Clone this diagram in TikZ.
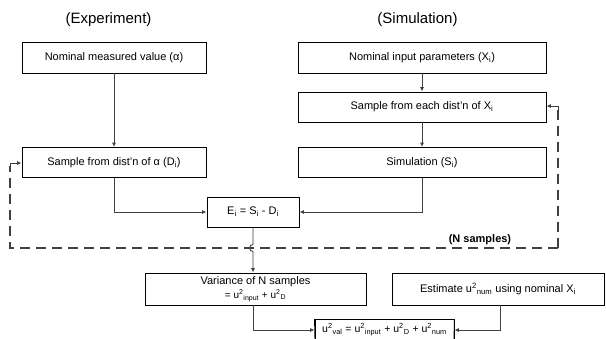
\documentclass[tikz,border=0pt]{standalone}
\usepackage{fontspec}
\setmainfont{Liberation Sans}
\usetikzlibrary{arrows.meta}
\begin{document}
\begin{tikzpicture}[x=1pt,y=-1pt,
  box/.style={draw=black, line width=0.9pt, fill=white, inner sep=0pt, font=\fontsize{11}{13}\selectfont, align=center},
  conn/.style={draw=black!75, line width=0.9pt, -{Latex[length=4.5pt,width=4pt]}},
  dashline/.style={draw=black!75, line width=1.8pt, dash pattern=on 10pt off 6pt},
  head/.style={font=\fontsize{15}{17}\selectfont, inner sep=0pt}]
\useasboundingbox (0,0) rectangle (606,338);
\clip (0,0) rectangle (606,338);
\fill[white] (0,0) rectangle (606,338);
\node[head] (hexp) at (108.5,20) {(Experiment)};
\node[head] (hsim) at (417.5,20) {(Simulation)};
\node[box, minimum width=184pt, minimum height=31pt] (n1) at (114,57.5) {Nominal measured value (α)};
\node[box, minimum width=184pt, minimum height=30pt] (n2) at (114,162.5) {Sample from dist’n of α (D\textsubscript{i})};
\node[box, minimum width=248pt, minimum height=31pt] (s1) at (422,57.5) {Nominal input parameters (X\textsubscript{i})};
\node[box, minimum width=248pt, minimum height=30pt] (s2) at (422,107) {Sample from each dist’n of X\textsubscript{i}};
\node[box, minimum width=248pt, minimum height=30pt] (s3) at (422,162.5) {Simulation (S\textsubscript{i})};
\node[box, minimum width=92pt, minimum height=30pt] (E) at (253,212) {E\textsubscript{i} = S\textsubscript{i} - D\textsubscript{i}};
\node[box, minimum width=221pt, minimum height=32pt, font=\fontsize{11}{15}\selectfont] (V) at (255.5,289) {Variance of N samples\\[-1pt]{\fontsize{10}{12}\selectfont = u\textsuperscript{2}\textsubscript{input} + u\textsuperscript{2}\textsubscript{D}}};
\node[box, minimum width=212pt, minimum height=32pt] (Est) at (498,289) {Estimate u\textsuperscript{2}\textsubscript{num} using nominal X\textsubscript{i}};
\node[box, minimum width=139pt, minimum height=21pt, font=\fontsize{10.5}{12}\selectfont] (F) at (384.5,330) {u\textsuperscript{2}\textsubscript{val} = u\textsuperscript{2}\textsubscript{input} + u\textsuperscript{2}\textsubscript{D} + u\textsuperscript{2}\textsubscript{num}};
\draw[black, line width=0.9pt] (F.north west) -- (315,340) (F.north east) -- (454,340);
% dashed loop
\coordinate (dl) at (10,248);
\coordinate (dr) at (558,248);
\draw[dashline] (dr) -- (dl) -- (10,166);
\draw[dashline] (dr) -- (558,110);
\draw[conn] (10,168) -- (10,163) -- (n2.west |- 10,163);
\draw[conn] (558,112) -- (558,106) -- (s2.east |- 558,106);
\node[font=\bfseries\fontsize{11}{13}\selectfont, inner sep=0pt] (ns) at (480,240) {(N samples)};
% connectors
\draw[conn] (n1.south) -- (n2.north);
\draw[conn] (s1.south) -- (s2.north);
\draw[conn] (s2.south) -- (s3.north);
\draw[conn] (n2.south) |- (E.west);
\draw[conn] (s3.south) |- (E.east);
\draw[conn] (E.south) -- (253,244.5) arc[start angle=90, end angle=270, radius=3.5pt] -- (E.south |- V.north);
\draw[conn] (253,305) |- (F.west);
\draw[conn] (500,305) |- (F.east);
\end{tikzpicture}
\end{document}
